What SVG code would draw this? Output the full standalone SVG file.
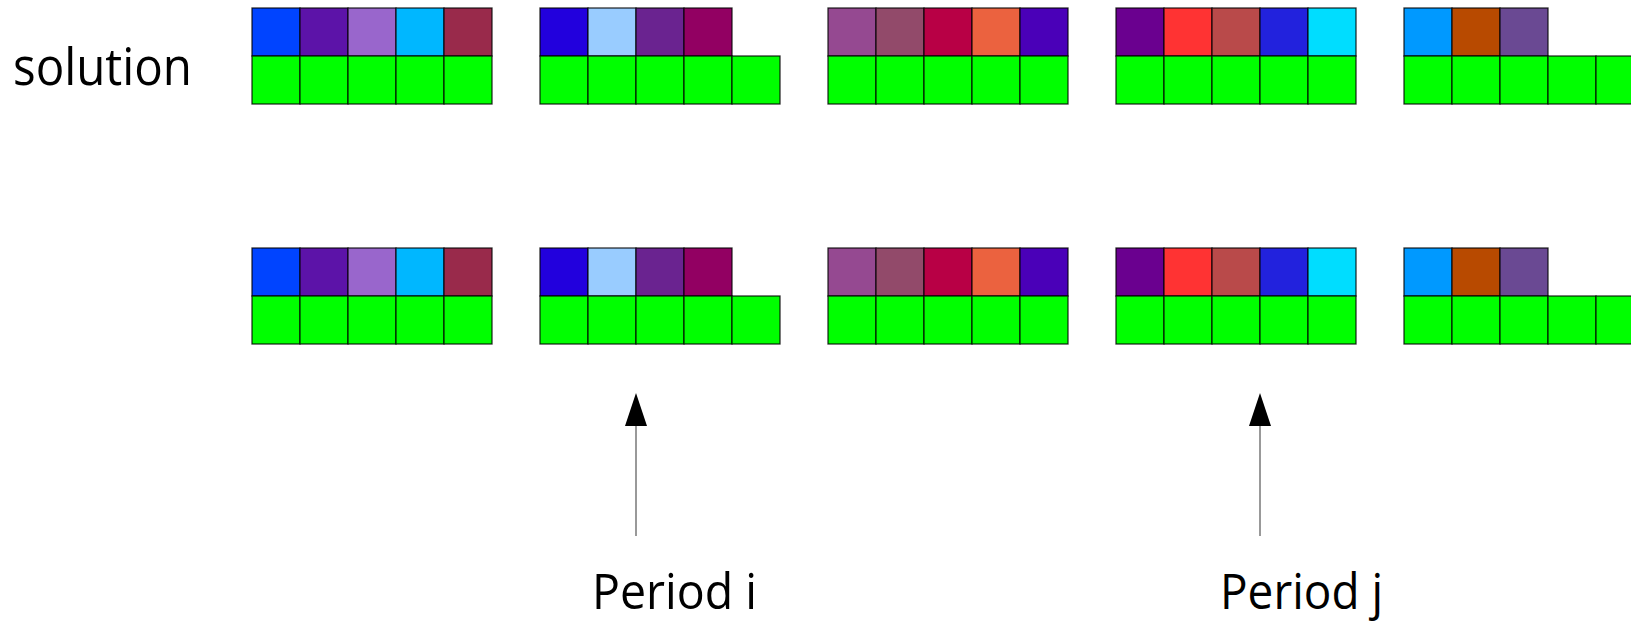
<svg xmlns="http://www.w3.org/2000/svg" width="1631" height="623" viewBox="0 0 1631 623">
<style>
rect{stroke:#000;stroke-width:1.3;stroke-opacity:0.8}
.g{fill:#00ff00}
text{font-family:"Open Sans","DejaVu Sans",sans-serif;fill:#000}
.conn line{stroke:#555;stroke-width:1.2}
.conn polygon{fill:#000}
</style>
<rect width="1631" height="623" fill="#fff" style="stroke:none"/>
<g id="label-solution"><text x="13" y="85" font-size="51" textLength="179" lengthAdjust="spacingAndGlyphs">solution</text></g>
<g id="row1">
<g id="r1b1">
<rect x="252" y="8" width="48" height="48" fill="#0044ff"/><rect x="300" y="8" width="48" height="48" fill="#5c13a8"/><rect x="348" y="8" width="48" height="48" fill="#9966cc"/><rect x="396" y="8" width="48" height="48" fill="#00b7ff"/><rect x="444" y="8" width="48" height="48" fill="#992a4b"/>
<rect class="g" x="252" y="56" width="48" height="48"/><rect class="g" x="300" y="56" width="48" height="48"/><rect class="g" x="348" y="56" width="48" height="48"/><rect class="g" x="396" y="56" width="48" height="48"/><rect class="g" x="444" y="56" width="48" height="48"/>
</g>
<g id="r1b2">
<rect x="540" y="8" width="48" height="48" fill="#2200dd"/><rect x="588" y="8" width="48" height="48" fill="#99ccff"/><rect x="636" y="8" width="48" height="48" fill="#6a2390"/><rect x="684" y="8" width="48" height="48" fill="#920062"/>
<rect class="g" x="540" y="56" width="48" height="48"/><rect class="g" x="588" y="56" width="48" height="48"/><rect class="g" x="636" y="56" width="48" height="48"/><rect class="g" x="684" y="56" width="48" height="48"/><rect class="g" x="732" y="56" width="48" height="48"/>
</g>
<g id="r1b3">
<rect x="828" y="8" width="48" height="48" fill="#954991"/><rect x="876" y="8" width="48" height="48" fill="#924a6a"/><rect x="924" y="8" width="48" height="48" fill="#b80045"/><rect x="972" y="8" width="48" height="48" fill="#eb623f"/><rect x="1020" y="8" width="48" height="48" fill="#4a00b8"/>
<rect class="g" x="828" y="56" width="48" height="48"/><rect class="g" x="876" y="56" width="48" height="48"/><rect class="g" x="924" y="56" width="48" height="48"/><rect class="g" x="972" y="56" width="48" height="48"/><rect class="g" x="1020" y="56" width="48" height="48"/>
</g>
<g id="r1b4">
<rect x="1116" y="8" width="48" height="48" fill="#6a008f"/><rect x="1164" y="8" width="48" height="48" fill="#ff3333"/><rect x="1212" y="8" width="48" height="48" fill="#b94a4a"/><rect x="1260" y="8" width="48" height="48" fill="#2222dd"/><rect x="1308" y="8" width="48" height="48" fill="#00ddff"/>
<rect class="g" x="1116" y="56" width="48" height="48"/><rect class="g" x="1164" y="56" width="48" height="48"/><rect class="g" x="1212" y="56" width="48" height="48"/><rect class="g" x="1260" y="56" width="48" height="48"/><rect class="g" x="1308" y="56" width="48" height="48"/>
</g>
<g id="r1b5">
<rect x="1404" y="8" width="48" height="48" fill="#0099ff"/><rect x="1452" y="8" width="48" height="48" fill="#b84a00"/><rect x="1500" y="8" width="48" height="48" fill="#6a4993"/>
<rect class="g" x="1404" y="56" width="48" height="48"/><rect class="g" x="1452" y="56" width="48" height="48"/><rect class="g" x="1500" y="56" width="48" height="48"/><rect class="g" x="1548" y="56" width="48" height="48"/><rect class="g" x="1596" y="56" width="48" height="48"/>
</g>
</g>
<g id="row2">
<g id="r2b1">
<rect x="252" y="248" width="48" height="48" fill="#0044ff"/><rect x="300" y="248" width="48" height="48" fill="#5c13a8"/><rect x="348" y="248" width="48" height="48" fill="#9966cc"/><rect x="396" y="248" width="48" height="48" fill="#00b7ff"/><rect x="444" y="248" width="48" height="48" fill="#992a4b"/>
<rect class="g" x="252" y="296" width="48" height="48"/><rect class="g" x="300" y="296" width="48" height="48"/><rect class="g" x="348" y="296" width="48" height="48"/><rect class="g" x="396" y="296" width="48" height="48"/><rect class="g" x="444" y="296" width="48" height="48"/>
</g>
<g id="r2b2">
<rect x="540" y="248" width="48" height="48" fill="#2200dd"/><rect x="588" y="248" width="48" height="48" fill="#99ccff"/><rect x="636" y="248" width="48" height="48" fill="#6a2390"/><rect x="684" y="248" width="48" height="48" fill="#920062"/>
<rect class="g" x="540" y="296" width="48" height="48"/><rect class="g" x="588" y="296" width="48" height="48"/><rect class="g" x="636" y="296" width="48" height="48"/><rect class="g" x="684" y="296" width="48" height="48"/><rect class="g" x="732" y="296" width="48" height="48"/>
</g>
<g id="r2b3">
<rect x="828" y="248" width="48" height="48" fill="#954991"/><rect x="876" y="248" width="48" height="48" fill="#924a6a"/><rect x="924" y="248" width="48" height="48" fill="#b80045"/><rect x="972" y="248" width="48" height="48" fill="#eb623f"/><rect x="1020" y="248" width="48" height="48" fill="#4a00b8"/>
<rect class="g" x="828" y="296" width="48" height="48"/><rect class="g" x="876" y="296" width="48" height="48"/><rect class="g" x="924" y="296" width="48" height="48"/><rect class="g" x="972" y="296" width="48" height="48"/><rect class="g" x="1020" y="296" width="48" height="48"/>
</g>
<g id="r2b4">
<rect x="1116" y="248" width="48" height="48" fill="#6a008f"/><rect x="1164" y="248" width="48" height="48" fill="#ff3333"/><rect x="1212" y="248" width="48" height="48" fill="#b94a4a"/><rect x="1260" y="248" width="48" height="48" fill="#2222dd"/><rect x="1308" y="248" width="48" height="48" fill="#00ddff"/>
<rect class="g" x="1116" y="296" width="48" height="48"/><rect class="g" x="1164" y="296" width="48" height="48"/><rect class="g" x="1212" y="296" width="48" height="48"/><rect class="g" x="1260" y="296" width="48" height="48"/><rect class="g" x="1308" y="296" width="48" height="48"/>
</g>
<g id="r2b5">
<rect x="1404" y="248" width="48" height="48" fill="#0099ff"/><rect x="1452" y="248" width="48" height="48" fill="#b84a00"/><rect x="1500" y="248" width="48" height="48" fill="#6a4993"/>
<rect class="g" x="1404" y="296" width="48" height="48"/><rect class="g" x="1452" y="296" width="48" height="48"/><rect class="g" x="1500" y="296" width="48" height="48"/><rect class="g" x="1548" y="296" width="48" height="48"/><rect class="g" x="1596" y="296" width="48" height="48"/>
</g>
</g>
<g id="connectors" class="conn">
<line x1="636" y1="536" x2="636" y2="420"/><polygon points="636,393 625,426 647,426"/>
<line x1="1260" y1="536" x2="1260" y2="420"/><polygon points="1260,393 1249,426 1271,426"/>
</g>
<g id="label-period-i"><text x="592" y="609" font-size="50" textLength="165" lengthAdjust="spacingAndGlyphs">Period i</text></g>
<g id="label-period-j"><text x="1220" y="609" font-size="50" textLength="163" lengthAdjust="spacingAndGlyphs">Period j</text></g>
</svg>
